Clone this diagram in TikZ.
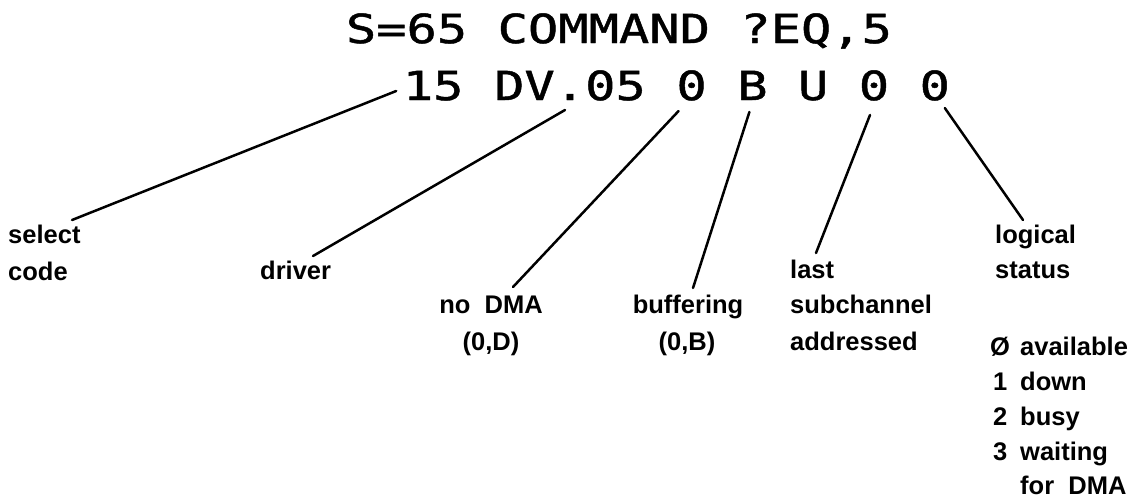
\documentclass[tikz,border=0pt]{standalone}
\usepackage{fontspec}
\newfontfamily\plotfont[FakeStretch=1.26,FakeBold=1.2]{DejaVu Sans Mono}
\newfontfamily\lblfont{Liberation Sans}
\begin{document}
\begin{tikzpicture}[x=1pt,y=-1pt,
  cmd/.style={inner sep=0pt,anchor=base,font=\plotfont\fontsize{40}{40}\selectfont},
  lbl/.style={inner sep=0pt,anchor=base west,font=\lblfont\bfseries\fontsize{25.5}{25.5}\selectfont},
  lblc/.style={lbl,anchor=base},
  conn/.style={line width=2.5pt,line cap=round}]
\useasboundingbox (0,0) rectangle (1136,498);
% command lines
\node[cmd] (top) at (619,43) {S=65 COMMAND ?EQ,5};
\node[cmd] (t15) at (433.2,100) {15};
\node[cmd] (tdv) at (570,100) {DV.05};
\node[cmd] (t0a) at (691.6,100) {0};
\node[cmd] (tB)  at (752.4,100) {B};
\node[cmd] (tU)  at (813.2,100) {U};
\node[cmd] (t0b) at (874,100) {0};
\node[cmd] (t0c) at (934.8,100) {0};
% labels
\node[lbl] (sel) at (8,243) {select};
\node[lbl] (selb) at (8,280) {code};
\node[lbl] (drv) at (260,279) {driver};
\node[lblc] (dma) at (491,313) {no\ \ DMA};
\node[lblc] (dmab) at (491,350) {(0,D)};
\node[lblc] (buf) at (688,313) {buffering};
\node[lblc] (bufb) at (687,350) {(0,B)};
\node[lbl] (last) at (790,278) {last};
\node[lbl] (lastb) at (790,313) {subchannel};
\node[lbl] (lastc) at (790,350) {addressed};
\node[lbl] (log) at (995,243) {logical};
\node[lbl] (logb) at (995,278) {status};
\node[lbl] (n0) at (990,355) {Ø};
\node[lbl] (s0) at (1020,355) {available};
\node[lbl] (n1) at (993,390) {1};
\node[lbl] (s1) at (1020,390) {down};
\node[lbl] (n2) at (993,425) {2};
\node[lbl] (s2) at (1020,425) {busy};
\node[lbl] (n3) at (993,460) {3};
\node[lbl] (s3) at (1020,460) {waiting};
\node[lbl] (s3b) at (1020,494) {for\ \ DMA};
% connectors
\draw[conn] ([shift={(-37,-9)}]t15.base) -- ([shift={(64,-23)}]sel.base west);
\draw[conn] ([shift={(-5,10)}]tdv.base) -- ([shift={(53,-23)}]drv.base west);
\draw[conn] ([shift={(-13,11)}]t0a.base) -- ([shift={(22,-26)}]dma.base);
\draw[conn] ([shift={(-3,12)}]tB.base) -- ([shift={(5,-25)}]buf.base);
\draw[conn] ([shift={(-4,15)}]t0b.base) -- ([shift={(26,-25)}]last.base west);
\draw[conn] ([shift={(10,8)}]t0c.base) -- ([shift={(28,-23)}]log.base west);
\end{tikzpicture}
\end{document}
